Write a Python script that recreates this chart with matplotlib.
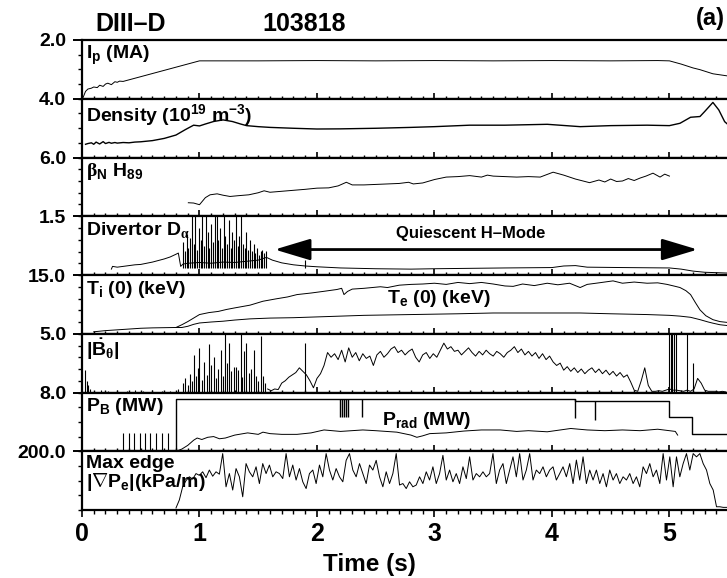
import numpy as np
import matplotlib
matplotlib.use("Agg")
import matplotlib.pyplot as plt
from matplotlib import font_manager
from matplotlib.ticker import MultipleLocator

# narrow bold font, like the original figure
_names = set(f.name for f in font_manager.fontManager.ttflist)
FONT = "Liberation Sans Narrow" if "Liberation Sans Narrow" in _names else "Liberation Sans"
plt.rcParams["font.family"] = [FONT, "DejaVu Sans"]
plt.rcParams["font.weight"] = "bold"
plt.rcParams["mathtext.fontset"] = "custom"
plt.rcParams["mathtext.rm"] = FONT + ":bold"
plt.rcParams["mathtext.it"] = FONT + ":bold"
plt.rcParams["mathtext.bf"] = FONT + ":bold"
plt.rcParams["mathtext.sf"] = "Liberation Serif"

# ---------------- data ----------------
# plasma current (MA)
ip_t = [0.01, 0.03, 0.05, 0.08, 0.10, 0.13, 0.15, 0.18, 0.20, 0.22, 0.25, 0.28, 0.30, 0.32, 0.35,
        1.00, 1.5, 2.0, 2.5, 3.0, 3.5, 4.0, 4.5, 4.9, 5.0, 5.1, 5.2, 5.26, 5.37, 5.49]
ip_v = [0.05, 0.25, 0.33, 0.36, 0.40, 0.38, 0.46, 0.42, 0.50, 0.53, 0.48, 0.58, 0.56, 0.60, 0.59,
        1.29, 1.29, 1.30, 1.29, 1.30, 1.29, 1.30, 1.29, 1.30, 1.29, 1.18, 1.05, 0.99, 0.85, 0.78]

# line averaged density (1e19 m^-3)
dn_t = [0.03, 0.05, 0.08, 0.10, 0.12, 0.15, 0.18, 0.20, 0.23, 0.25, 0.28, 0.30, 0.35, 0.40, 0.45,
        0.50, 0.60, 0.70, 0.80, 0.88, 0.95, 1.00, 1.05, 1.12, 1.20, 1.28, 1.35, 1.40, 1.50, 1.60,
        1.80, 2.00, 2.20, 2.50, 2.80, 3.00, 3.30, 3.60, 3.96, 4.24, 4.50, 4.81, 5.00, 5.09, 5.18,
        5.26, 5.30, 5.37, 5.42, 5.47, 5.49]
dn_v = [0.9, 0.95, 1.0, 0.9, 1.05, 0.92, 1.08, 0.95, 1.03, 0.97, 1.02, 0.98, 1.02, 1.0, 1.05,
        1.07, 1.15, 1.3, 1.53, 1.9, 2.2, 2.15, 2.28, 2.45, 2.56, 2.45, 2.28, 2.17, 2.1, 2.05,
        1.99, 1.94, 1.95, 1.99, 2.05, 2.1, 2.2, 2.2, 2.26, 2.1, 2.17, 2.2, 2.17, 2.33, 2.74,
        2.79, 3.13, 3.75, 3.24, 2.44, 2.3]

# beta_N * H89
bn_t = [0.905, 0.95, 1.0, 1.05, 1.09, 1.15, 1.2, 1.26, 1.33, 1.42, 1.5, 1.55, 1.6, 1.7, 1.8,
        1.9, 2.0, 2.1, 2.18, 2.25, 2.3, 2.4, 2.5, 2.6, 2.7, 2.78, 2.82, 2.9, 3.0, 3.1,
        3.2, 3.3, 3.4, 3.45, 3.5, 3.6, 3.7, 3.8, 3.9, 4.01, 4.1, 4.2, 4.32, 4.4, 4.45,
        4.5, 4.55, 4.6, 4.65, 4.7, 4.75, 4.8, 4.86, 4.92, 4.96, 5.0]
bn_v = [1.38, 1.35, 1.18, 1.9, 2.19, 2.29, 2.15, 2.02, 2.1, 2.19, 2.4, 2.6, 2.45, 2.55, 2.65,
        2.75, 2.87, 2.9, 3.1, 3.47, 3.2, 3.2, 3.25, 3.3, 3.35, 3.47, 3.3, 3.4, 3.75, 4.0,
        4.05, 4.15, 4.0, 4.2, 4.1, 4.05, 4.0, 4.05, 4.0, 4.5, 4.2, 3.8, 3.43, 3.7, 3.5,
        3.8, 3.55, 3.6, 3.85, 3.65, 3.9, 4.1, 4.4, 4.0, 4.3, 4.1]

# divertor D-alpha: slow part and ELM spikes
da_t = [0.25, 0.26, 0.30, 0.35, 0.40, 0.45, 0.50, 0.55, 0.60, 0.65, 0.70, 0.75, 0.80, 0.82, 0.84,
        0.86, 0.90, 1.00, 1.10, 1.20, 1.30, 1.40, 1.50, 1.57, 1.62, 1.70, 1.80, 1.90, 2.00, 2.20,
        2.50, 2.80, 3.00, 3.30, 3.60, 4.00, 4.10, 4.20, 4.30, 4.60, 5.00, 5.10, 5.20, 5.30, 5.49]
da_v = [0.15, 0.22, 0.20, 0.22, 0.24, 0.26, 0.27, 0.30, 0.33, 0.37, 0.41, 0.46, 0.53, 0.56, 0.22,
        0.28, 0.30, 0.32, 0.30, 0.33, 0.32, 0.35, 0.38, 0.45, 0.38, 0.31, 0.26, 0.23, 0.21, 0.18,
        0.16, 0.15, 0.16, 0.17, 0.18, 0.19, 0.23, 0.24, 0.20, 0.19, 0.18, 0.15, 0.10, 0.07, 0.05]
elm_t = [0.86, 0.875, 0.89, 0.905, 0.92, 0.935, 0.95, 0.965, 0.98, 0.995, 1.01, 1.025, 1.04, 1.055,
         1.07, 1.085, 1.10, 1.115, 1.13, 1.145, 1.16, 1.175, 1.19, 1.205, 1.22, 1.235, 1.25, 1.265,
         1.28, 1.295, 1.31, 1.325, 1.34, 1.355, 1.37, 1.385, 1.40, 1.415, 1.43, 1.445, 1.46, 1.475,
         1.49, 1.505, 1.52, 1.535, 1.55, 1.565, 1.90]
elm_da = [0.85, 0.6, 1.05, 0.7, 0.95, 1.6, 0.8, 1.6, 0.65, 1.2, 0.9, 1.6, 0.75, 1.6,
          1.1, 0.7, 1.3, 0.85, 1.6, 1.6, 0.9, 1.2, 0.7, 1.6, 1.0, 0.8, 1.4, 0.7,
          1.1, 0.9, 1.6, 0.75, 1.0, 1.6, 0.8, 0.7, 1.1, 0.65, 0.9, 0.6, 0.8, 0.55,
          0.7, 0.5, 0.6, 0.65, 0.55, 0.6, 0.38]

# central ion and electron temperature (keV)
ti_t = [0.10, 0.20, 0.30, 0.40, 0.50, 0.60, 0.70, 0.80, 0.85, 0.90, 0.95, 1.00, 1.08, 1.16, 1.23,
        1.30, 1.43, 1.54, 1.65, 1.75, 1.83, 1.95, 2.05, 2.17, 2.21, 2.23, 2.26, 2.30, 2.40, 2.54,
        2.60, 2.70, 2.80, 2.90, 3.00, 3.10, 3.20, 3.30, 3.40, 3.50, 3.60, 3.67, 3.75, 3.85, 3.96,
        4.05, 4.15, 4.24, 4.30, 4.40, 4.52, 4.60, 4.70, 4.81, 4.90, 4.98, 5.05, 5.09, 5.14, 5.18,
        5.22, 5.26, 5.31, 5.37, 5.43, 5.49]
ti_v = [0.5, 0.8, 1.0, 1.2, 1.4, 1.5, 1.55, 1.6, 2.3, 3.1, 4.0, 4.9, 5.4, 5.7, 6.2,
        6.6, 7.3, 8.3, 8.9, 9.4, 10.0, 10.4, 10.8, 11.3, 11.6, 10.0, 10.8, 11.4, 11.6, 12.0,
        11.8, 12.4, 12.6, 12.7, 12.9, 12.6, 13.1, 12.8, 13.1, 12.7, 12.2, 12.1, 12.7, 12.3, 12.9,
        12.5, 12.9, 11.8, 12.6, 13.0, 13.5, 12.9, 13.2, 12.9, 13.0, 12.6, 12.1, 11.8, 11.0, 10.0,
        8.0, 6.1, 4.6, 3.6, 3.1, 2.9]
te_t = [0.80, 0.85, 0.90, 0.95, 1.00, 1.10, 1.20, 1.30, 1.43, 1.60, 1.80, 2.00, 2.40, 2.80,
        3.20, 3.50, 4.00, 4.24, 4.50, 4.81, 5.00, 5.09, 5.18, 5.26, 5.33, 5.37, 5.43, 5.49]
te_v = [1.6, 1.6, 1.9, 2.4, 2.75, 3.0, 3.2, 3.5, 3.8, 4.0, 4.1, 4.3, 4.7, 4.9,
        5.1, 5.3, 5.3, 5.3, 5.1, 4.9, 4.7, 4.5, 4.2, 3.6, 3.0, 2.7, 2.3, 2.1]

# |dB_theta/dt|: sampled every 0.03 s from 1.58 s, plus spikes
bdot_t0, bdot_dt = 1.58, 0.03
bdot_v = [0.3, 0.15, 0.3, 0.25, 0.8, 1.0, 1.3, 1.5, 1.7, 2.1, 1.8, 1.5, 1.0, 0.4, 1.2, 1.6, 2.3,
          3.4, 3.0, 3.3, 2.8, 3.6, 2.6, 3.8, 3.0, 3.4, 2.7, 3.3, 2.9, 3.1, 2.3, 3.2,
          3.5, 3.0, 3.3, 3.7, 3.9, 3.4, 3.6, 3.2, 3.5, 3.7, 3.0, 2.6, 3.2, 3.4, 2.9,
          3.3, 3.0, 3.6, 4.2, 3.7, 3.9, 3.5, 3.6, 3.2, 3.5, 3.8, 3.4, 3.1,
          3.5, 3.2, 3.6, 3.3, 3.1, 3.5, 3.3, 3.0, 3.4, 3.6, 3.9, 3.4, 3.7, 3.2, 3.5, 3.1,
          3.4, 2.9, 3.3, 2.8, 3.1, 2.6, 2.3, 2.5,
          1.9, 2.2, 1.8, 2.1, 1.7, 2.0, 1.6, 1.9, 2.1, 1.7, 2.0, 1.6, 1.9, 1.5, 1.8, 1.4,
          1.7, 1.3, 1.5, 0.9, 0.2,
          0.1, 1.0, 2.1, 0.6, 0.1, 0.1, 0.15, 0.1, 0.2, 0.3, 0.2, 0.2, 0.15, 0.1, 0.2, 0.1,
          0.3, 1.2, 0.8, 0.2, 0.1, 0.1, 0.1, 0.05, 0.1, 0.05]
bspk_t = [0.025, 0.04, 0.055, 0.07, 0.10, 0.16, 0.22, 0.30, 0.38, 0.45, 0.52, 0.60, 0.68, 0.75, 0.82,
          0.86, 0.88, 0.90, 0.92, 0.935, 0.95, 0.97, 0.99, 1.00, 1.02, 1.04, 1.06, 1.08, 1.10, 1.12,
          1.14, 1.16, 1.18, 1.20, 1.22, 1.23, 1.25, 1.27, 1.29, 1.31, 1.33, 1.35, 1.36, 1.38, 1.40,
          1.42, 1.44, 1.46, 1.48, 1.50, 1.52, 1.54, 1.56, 1.90,
          4.995, 5.01, 5.025, 5.04, 5.055, 5.15, 5.20]
bspk_v = [1.9, 1.0, 0.6, 0.3, 0.15, 0.25, 0.1, 0.2, 0.15, 0.25, 0.1, 0.2, 0.15, 0.1, 0.3,
          0.8, 1.2, 0.6, 1.6, 1.0, 3.2, 1.4, 2.1, 3.8, 1.1, 2.6, 1.5, 4.1, 2.3, 3.0,
          1.2, 2.0, 3.6, 1.4, 5.2, 2.5, 4.2, 1.8, 2.2, 2.2, 1.9, 5.2, 1.3, 3.5, 4.2,
          1.7, 2.0, 3.6, 1.4, 1.0, 4.8, 1.4, 0.8, 4.2,
          5.2, 5.2, 5.2, 5.2, 5.2, 5.2, 2.5]

# neutral beam power (MW) and radiated power (MW)
pb_t = [0.0, 0.80, 4.20, 5.00, 5.19, 5.49]
pb_v = [0.0, 7.1, 6.85, 4.7, 2.3, 2.3]
pb_pulse_t = [0.35, 0.40, 0.44, 0.49, 0.54, 0.58, 0.63, 0.68, 0.73]
pb_pulse_v = [2.5, 2.5, 2.5, 2.5, 2.5, 2.5, 2.5, 2.5, 2.5]
pb_notch_t = [2.20, 2.215, 2.23, 2.245, 2.26, 2.38, 4.20, 4.37]
pb_notch_lo = [4.7, 4.7, 4.7, 4.7, 4.7, 4.7, 4.5, 4.3]
pb_notch_hi = [7.1, 7.1, 7.1, 7.1, 7.1, 7.1, 7.1, 6.85]
pr_t = [0.80, 0.85, 0.90, 0.95, 0.98, 1.02, 1.07, 1.12, 1.17, 1.22, 1.30, 1.41, 1.50, 1.54, 1.60,
        1.70, 1.83, 1.95, 2.06, 2.20, 2.39, 2.50, 2.68, 2.80, 2.85, 2.90, 2.96, 3.10, 3.25, 3.40,
        3.56, 3.70, 3.80, 3.96, 4.16, 4.30, 4.45, 4.60, 4.75, 4.90, 5.00, 5.05, 5.07]
pr_v = [0.0, 0.3, 0.8, 1.5, 1.8, 1.6, 1.9, 2.0, 1.7, 1.8, 2.2, 2.5, 2.3, 2.6, 2.4,
        2.3, 2.3, 2.5, 2.9, 2.7, 2.9, 2.8, 2.6, 2.2, 1.9, 2.1, 2.4, 2.5, 2.75, 2.9,
        2.9, 2.7, 2.8, 2.65, 3.1, 2.9, 2.8, 2.9, 2.8, 3.0, 2.8, 2.7, 2.2]

# max edge pressure gradient (kPa/m), sampled every 0.0284 s from 0.80 s
gp_t0, gp_dt = 0.80, 0.0284
gp_v = [7, 34, 79, 100, 113, 105, 124, 118, 130, 110, 136, 115, 130, 122, 192, 79,
        124, 68, 141, 113, 45, 158, 130, 113, 147, 90,
        158, 124, 153, 113, 130, 124, 107, 192, 113, 153,
        102, 141, 96, 73, 124, 136, 90, 153, 113, 192,
        136, 102, 141, 113, 96, 169, 192, 136, 113, 158,
        124, 90, 153, 136, 169, 113, 79, 130, 90, 124,
        192, 85, 90, 73, 96, 79, 85, 113, 90, 130,
        102, 147, 90, 124, 186, 102, 136, 96, 124, 90,
        147, 107, 181, 102, 124, 113, 130, 113, 124,
        192, 90, 136, 158, 90, 136, 181, 113, 192, 102,
        136, 192, 102, 136, 124, 147, 113, 136, 147, 102,
        124, 147, 113, 158, 90, 170, 102, 181, 90, 136,
        102, 136, 90, 124, 79, 136, 102, 124, 90, 113,
        102, 124, 90, 113, 79, 147, 124, 158, 113, 136,
        90, 192, 102, 181, 79, 181, 113, 158, 192, 136,
        192, 181, 192, 158, 136, 90, 68, 11, 11, 9, 9]

# panel scales
ymax = [2.0, 4.0, 6.0, 1.5, 15.0, 5.0, 8.0, 200.0]
ytop_labels = ["2.0", "4.0", "6.0", "1.5", "15.0", "5.0", "8.0", "200.0"]
yminor_div = [4, 4, 5, 5, 5, 5, 4, 4]
panel_labels = [r"$\mathregular{I_p}$ (MA)",
                r"Density (10$^{\mathregular{19}}$ m$^{\mathregular{-3}}$)",
                r"$\mathsf{\beta}_{\mathregular{N}}$ $\mathregular{H_{89}}$",
                r"Divertor D$_{\mathsf{\alpha}}$",
                r"$\mathregular{T_i}$ (0) (keV)",
                r"|$\dot{\mathregular{B}}_{\mathsf{\theta}}$|",
                r"$\mathregular{P_B}$ (MW)",
                "Max edge\n" + r"|$\mathsf{\nabla}\mathregular{P_e}$|(kPa/m)"]

# ---------------- figure ----------------
fig = plt.figure(figsize=(7.27, 5.78), dpi=100)
axes = fig.subplots(8, 1, sharex=True, gridspec_kw=dict(hspace=0))
fig.subplots_adjust(left=82/727, right=1.0, top=1-40/578, bottom=1-510/578)

LW = 0.7
for i, ax in enumerate(axes):
    ax.set_xlim(0, 5.49)
    ax.set_ylim(0, ymax[i])
    ax.spines["right"].set_visible(False)
    for s in ["left", "top", "bottom"]:
        ax.spines[s].set_linewidth(1.6)
    ax.set_yticks([ymax[i]])
    ax.set_yticklabels([ytop_labels[i]])
    ax.yaxis.set_minor_locator(MultipleLocator(ymax[i] / yminor_div[i]))
    ax.tick_params(axis="y", which="major", direction="out", length=6.5, width=1.4,
                   labelsize=14, pad=5)
    ax.tick_params(axis="y", which="minor", direction="out", length=3, width=1.0)
    ax.xaxis.set_major_locator(MultipleLocator(1))
    ax.xaxis.set_minor_locator(MultipleLocator(0.1))
    if i < 7:
        ax.tick_params(axis="x", which="major", direction="in", length=4.3, width=1.2,
                       labelbottom=False)
        ax.tick_params(axis="x", which="minor", direction="in", length=2.2, width=1.0)
    else:
        ax.tick_params(axis="x", which="major", direction="out", length=5.3, width=1.2,
                       labelsize=18, pad=3)
        ax.tick_params(axis="x", which="minor", direction="out", length=2.9, width=1.0)
    ax.text(0.006, 0.94, panel_labels[i], transform=ax.transAxes, ha="left", va="top",
            fontsize=14, fontweight="bold", linespacing=0.95)

for lab in axes[7].get_xticklabels():
    lab.set_fontweight("bold")

axes[0].plot(ip_t, ip_v, color="k", lw=LW)
axes[1].plot(dn_t, dn_v, color="k", lw=1.0)
axes[2].plot(bn_t, bn_v, color="k", lw=LW)

axes[3].plot(da_t, da_v, color="k", lw=LW)
axes[3].vlines(elm_t, 0.18, elm_da, color="k", lw=0.8)
axes[3].annotate("", xy=(1.64, 0.65), xytext=(5.24, 0.65),
                 arrowprops=dict(arrowstyle="<|-|>,head_length=1.1,head_width=0.33",
                                 color="k", lw=2.0, mutation_scale=20, shrinkA=0, shrinkB=0))
axes[3].text(3.31, 1.06, "Quiescent H\u2013Mode", ha="center", va="center", fontsize=12)

axes[4].plot(ti_t, ti_v, color="k", lw=LW)
axes[4].plot(te_t, te_v, color="k", lw=LW)
axes[4].text(2.6, 7.9, r"$\mathregular{T_e}$ (0) (keV)", ha="left", va="baseline", fontsize=14)

bdot_t = bdot_t0 + bdot_dt * np.arange(len(bdot_v))
axes[5].plot(bdot_t, bdot_v, color="k", lw=LW)
axes[5].vlines(bspk_t, 0, bspk_v, color="k", lw=0.8)

axes[6].step(pb_t, pb_v, where="post", color="k", lw=1.0)
axes[6].vlines(pb_pulse_t, 0, pb_pulse_v, color="k", lw=0.8)
axes[6].vlines(pb_notch_t, pb_notch_lo, pb_notch_hi, color="k", lw=1.0)
axes[6].plot(pr_t, pr_v, color="k", lw=LW)
axes[6].text(2.55, 3.6, r"$\mathregular{P_{rad}}$ (MW)", ha="left", va="baseline", fontsize=14)

gp_t = gp_t0 + gp_dt * np.arange(len(gp_v))
axes[7].plot([0, gp_t0], [0, 0], color="k", lw=LW)
axes[7].plot(gp_t, gp_v, color="k", lw=LW)

fig.text(95/727, 1-24/578, "DIII\u2013D", ha="left", va="center", fontsize=18)
fig.text(262/727, 1-24/578, "103818", ha="left", va="center", fontsize=18)
fig.text(725/727, 1-19/578, "(a)", ha="right", va="center", fontsize=17)
fig.text(369/727, 1-565/578, "Time (s)", ha="center", va="center", fontsize=17.5)

fig.savefig("out.png", dpi=100)
